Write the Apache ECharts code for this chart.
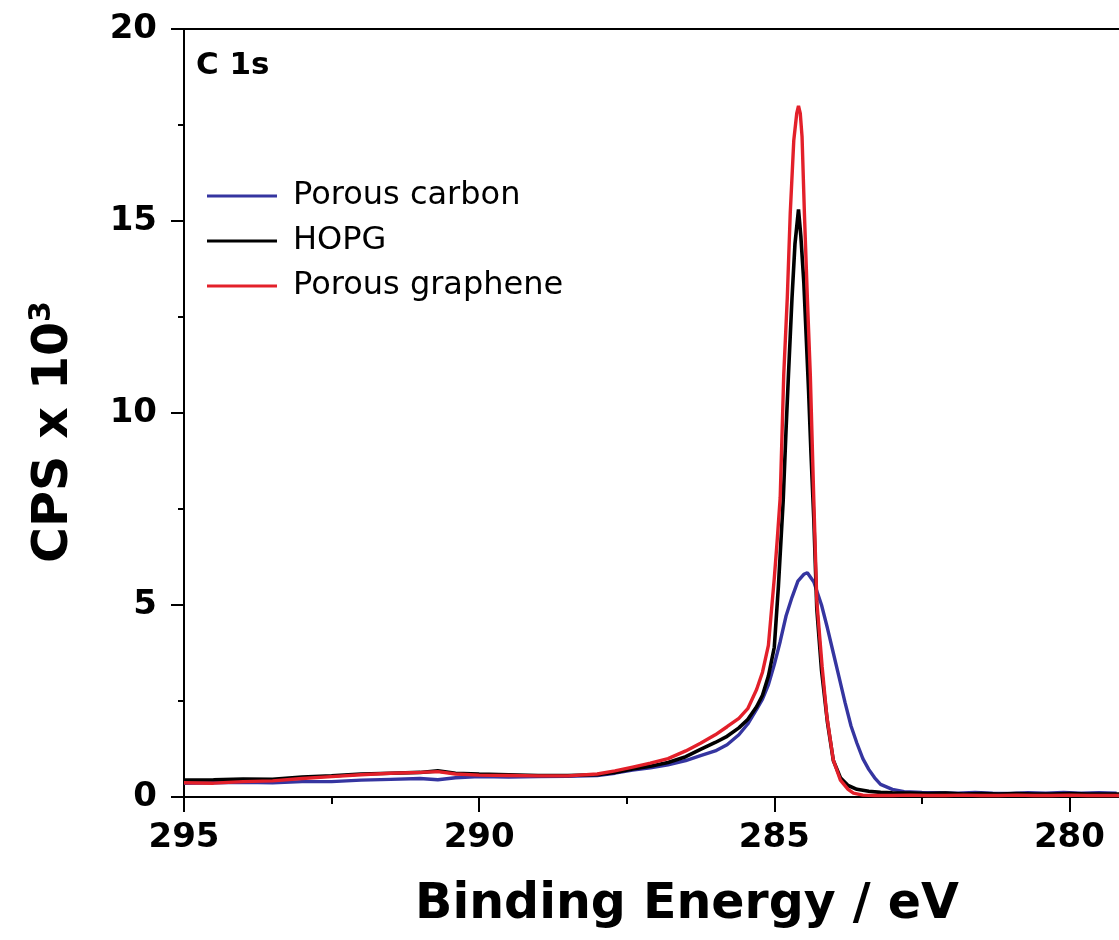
<!DOCTYPE html>
<html>
<head>
<meta charset="utf-8">
<script src="https://cdn.jsdelivr.net/npm/echarts@6/dist/echarts.min.js"></script>
<style>html,body{margin:0;padding:0;background:#fff;}#c{width:1119px;height:940px;}</style>
</head>
<body>
<div id="c"></div>
<script>
// Binding energy (eV) and CPS x 10^3
const carbonEnergy = [295.0,294.5,294.0,293.5,293.0,292.5,292.0,291.5,291.0,290.7,290.4,290.0,289.5,289.0,288.5,288.0,287.7,287.4,287.1,286.8,286.5,286.25,286.0,285.8,285.6,285.45,285.3,285.2,285.1,285.0,284.9,284.8,284.7,284.6,284.5,284.44,284.33,284.2,284.1,284.0,283.9,283.8,283.7,283.6,283.5,283.4,283.3,283.2,283.0,282.8,282.5,282.2,281.9,281.6,281.3,281.0,280.7,280.4,280.1,279.8,279.5,279.2];
const carbonCps   = [0.36,0.37,0.38,0.37,0.40,0.40,0.44,0.46,0.48,0.45,0.50,0.53,0.52,0.53,0.54,0.56,0.62,0.70,0.76,0.84,0.95,1.08,1.20,1.36,1.62,1.90,2.28,2.55,2.92,3.45,4.05,4.72,5.20,5.62,5.80,5.84,5.60,5.00,4.40,3.75,3.10,2.45,1.85,1.40,1.00,0.72,0.50,0.33,0.20,0.14,0.12,0.11,0.10,0.12,0.10,0.09,0.11,0.10,0.12,0.10,0.11,0.10];

const hopgEnergy = [295.0,294.5,294.0,293.5,293.0,292.5,292.0,291.5,291.0,290.7,290.4,290.0,289.5,289.0,288.5,288.0,287.7,287.4,287.1,286.8,286.5,286.25,286.0,285.8,285.6,285.45,285.3,285.2,285.1,285.0,284.93,284.85,284.8,284.76,284.7,284.65,284.59,284.55,284.5,284.46,284.42,284.38,284.33,284.28,284.2,284.1,284.0,283.88,283.75,283.6,283.4,283.2,283.0,282.7,282.4,282.1,281.8,281.5,281.2,280.9,280.6,280.3,280.0,279.7,279.4,279.1];
const hopgCps   = [0.44,0.45,0.47,0.46,0.52,0.55,0.60,0.62,0.64,0.68,0.62,0.60,0.58,0.56,0.56,0.58,0.64,0.73,0.80,0.90,1.05,1.24,1.42,1.58,1.80,2.02,2.35,2.65,3.15,3.90,5.50,7.70,9.60,11.0,13.0,14.4,15.3,14.6,13.4,12.0,10.6,9.0,7.2,4.9,3.3,1.95,0.95,0.50,0.30,0.20,0.15,0.12,0.11,0.10,0.09,0.10,0.08,0.09,0.08,0.09,0.08,0.08,0.09,0.08,0.08,0.08];

const grapheneEnergy = [295.0,294.5,294.0,293.5,293.0,292.5,292.0,291.5,291.0,290.7,290.4,290.0,289.5,289.0,288.5,288.0,287.7,287.4,287.1,286.8,286.5,286.25,286.0,285.8,285.6,285.45,285.3,285.2,285.1,285.0,284.95,284.9,284.84,284.78,284.73,284.67,284.62,284.59,284.56,284.53,284.49,284.44,284.39,284.33,284.28,284.19,284.11,284.0,283.88,283.75,283.66,283.5,283.3,283.0,282.7,282.4,282.1,281.8,281.5,281.2,280.9,280.6,280.3,280.0,279.7,279.4,279.1];
const grapheneCps   = [0.37,0.36,0.40,0.42,0.48,0.53,0.58,0.62,0.64,0.66,0.60,0.57,0.56,0.55,0.55,0.60,0.68,0.78,0.88,1.00,1.20,1.40,1.62,1.83,2.05,2.30,2.80,3.25,3.95,5.70,6.70,7.80,11.0,13.0,15.2,17.1,17.8,18.0,17.8,17.2,15.2,13.0,11.0,7.7,5.1,3.4,2.1,0.96,0.44,0.20,0.10,0.05,0.04,0.04,0.05,0.04,0.04,0.05,0.04,0.04,0.05,0.04,0.04,0.05,0.04,0.04,0.04];

const seriesNames = ['Porous carbon', 'HOPG', 'Porous graphene'];
const xTicks = [295, 290, 285, 280];
const yTicks = [0, 5, 10, 15, 20];

const FONT = 'DejaVu Sans';
const toPairs = (e, v) => e.map((x, i) => [x, v[i]]);

const chart = echarts.init(document.getElementById('c'), null, {renderer: 'canvas'});
chart.setOption({
  animation: false,
  backgroundColor: '#fff',
  grid: {left: 184, right: -245.6, top: 29, bottom: 143, show: true, borderColor: '#000', borderWidth: 2, containLabel: false, outerBoundsMode: 'none'},
  legend: {
    orient: 'vertical', left: 207, top: 180, padding: 0, itemWidth: 70, itemHeight: 3, itemGap: 13,
    icon: 'rect',
    data: seriesNames,
    selectedMode: false,
    textStyle: {fontFamily: FONT, fontSize: 32, color: '#000', lineHeight: 32, padding: [0, 0, 0, 11]}
  },
  xAxis: {
    type: 'value', inverse: true, min: 275, max: 295, interval: 5,
    axisLine: {show: true, onZero: false, lineStyle: {color: '#000', width: 2}},
    axisTick: {show: true, length: 15, lineStyle: {color: '#000', width: 2}},
    minorTick: {show: true, splitNumber: 2, length: 7, lineStyle: {color: '#000', width: 2}},
    axisLabel: {fontFamily: FONT, fontSize: 34, fontWeight: 'bold', color: '#000', margin: 24,
      formatter: v => xTicks.includes(v) ? String(v) : ''},
    splitLine: {show: false}, minorSplitLine: {show: false}
  },
  yAxis: {
    type: 'value', min: 0, max: 20, interval: 5,
    axisLine: {show: true, onZero: false, lineStyle: {color: '#000', width: 2}},
    axisTick: {show: true, length: 13, lineStyle: {color: '#000', width: 2}},
    minorTick: {show: true, splitNumber: 2, length: 6, lineStyle: {color: '#000', width: 2}},
    axisLabel: {fontFamily: FONT, fontSize: 34, fontWeight: 'bold', color: '#000', margin: 27,
      formatter: v => yTicks.includes(v) ? String(v) : ''},
    splitLine: {show: false}, minorSplitLine: {show: false}
  },
  graphic: [
    {type: 'text', left: 196, top: 50, style: {text: 'C 1s', fontFamily: FONT, fontSize: 31, fontWeight: 'bold', fill: '#000'}},
    {type: 'text', x: 687, y: 905, style: {text: 'Binding Energy / eV', fontFamily: FONT, fontSize: 49, fontWeight: 'bold', fill: '#000', align: 'center', verticalAlign: 'middle'}},
    {type: 'text', x: 54, y: 432, rotation: Math.PI / 2, style: {
      text: '{m|CPS x 10}{s|3}', align: 'center', verticalAlign: 'middle',
      rich: {
        m: {fontFamily: FONT, fontSize: 49, fontWeight: 'bold', fill: '#000', lineHeight: 54},
        s: {fontFamily: FONT, fontSize: 30, fontWeight: 'bold', fill: '#000', verticalAlign: 'top', lineHeight: 54, padding: [0, 0, 22, 0]}
      }
    }}
  ],
  series: [
    {name: seriesNames[0], type: 'line', data: toPairs(carbonEnergy, carbonCps), showSymbol: false, symbol: 'none', lineStyle: {color: '#3535a0', width: 3.4}, itemStyle: {color: '#3535a0'}, z: 2},
    {name: seriesNames[1], type: 'line', data: toPairs(hopgEnergy, hopgCps), showSymbol: false, symbol: 'none', lineStyle: {color: '#000', width: 3.6}, itemStyle: {color: '#000'}, z: 3},
    {name: seriesNames[2], type: 'line', data: toPairs(grapheneEnergy, grapheneCps), showSymbol: false, symbol: 'none', lineStyle: {color: '#e3202a', width: 3.4}, itemStyle: {color: '#e3202a'}, z: 4}
  ]
});
</script>
</body>
</html>
